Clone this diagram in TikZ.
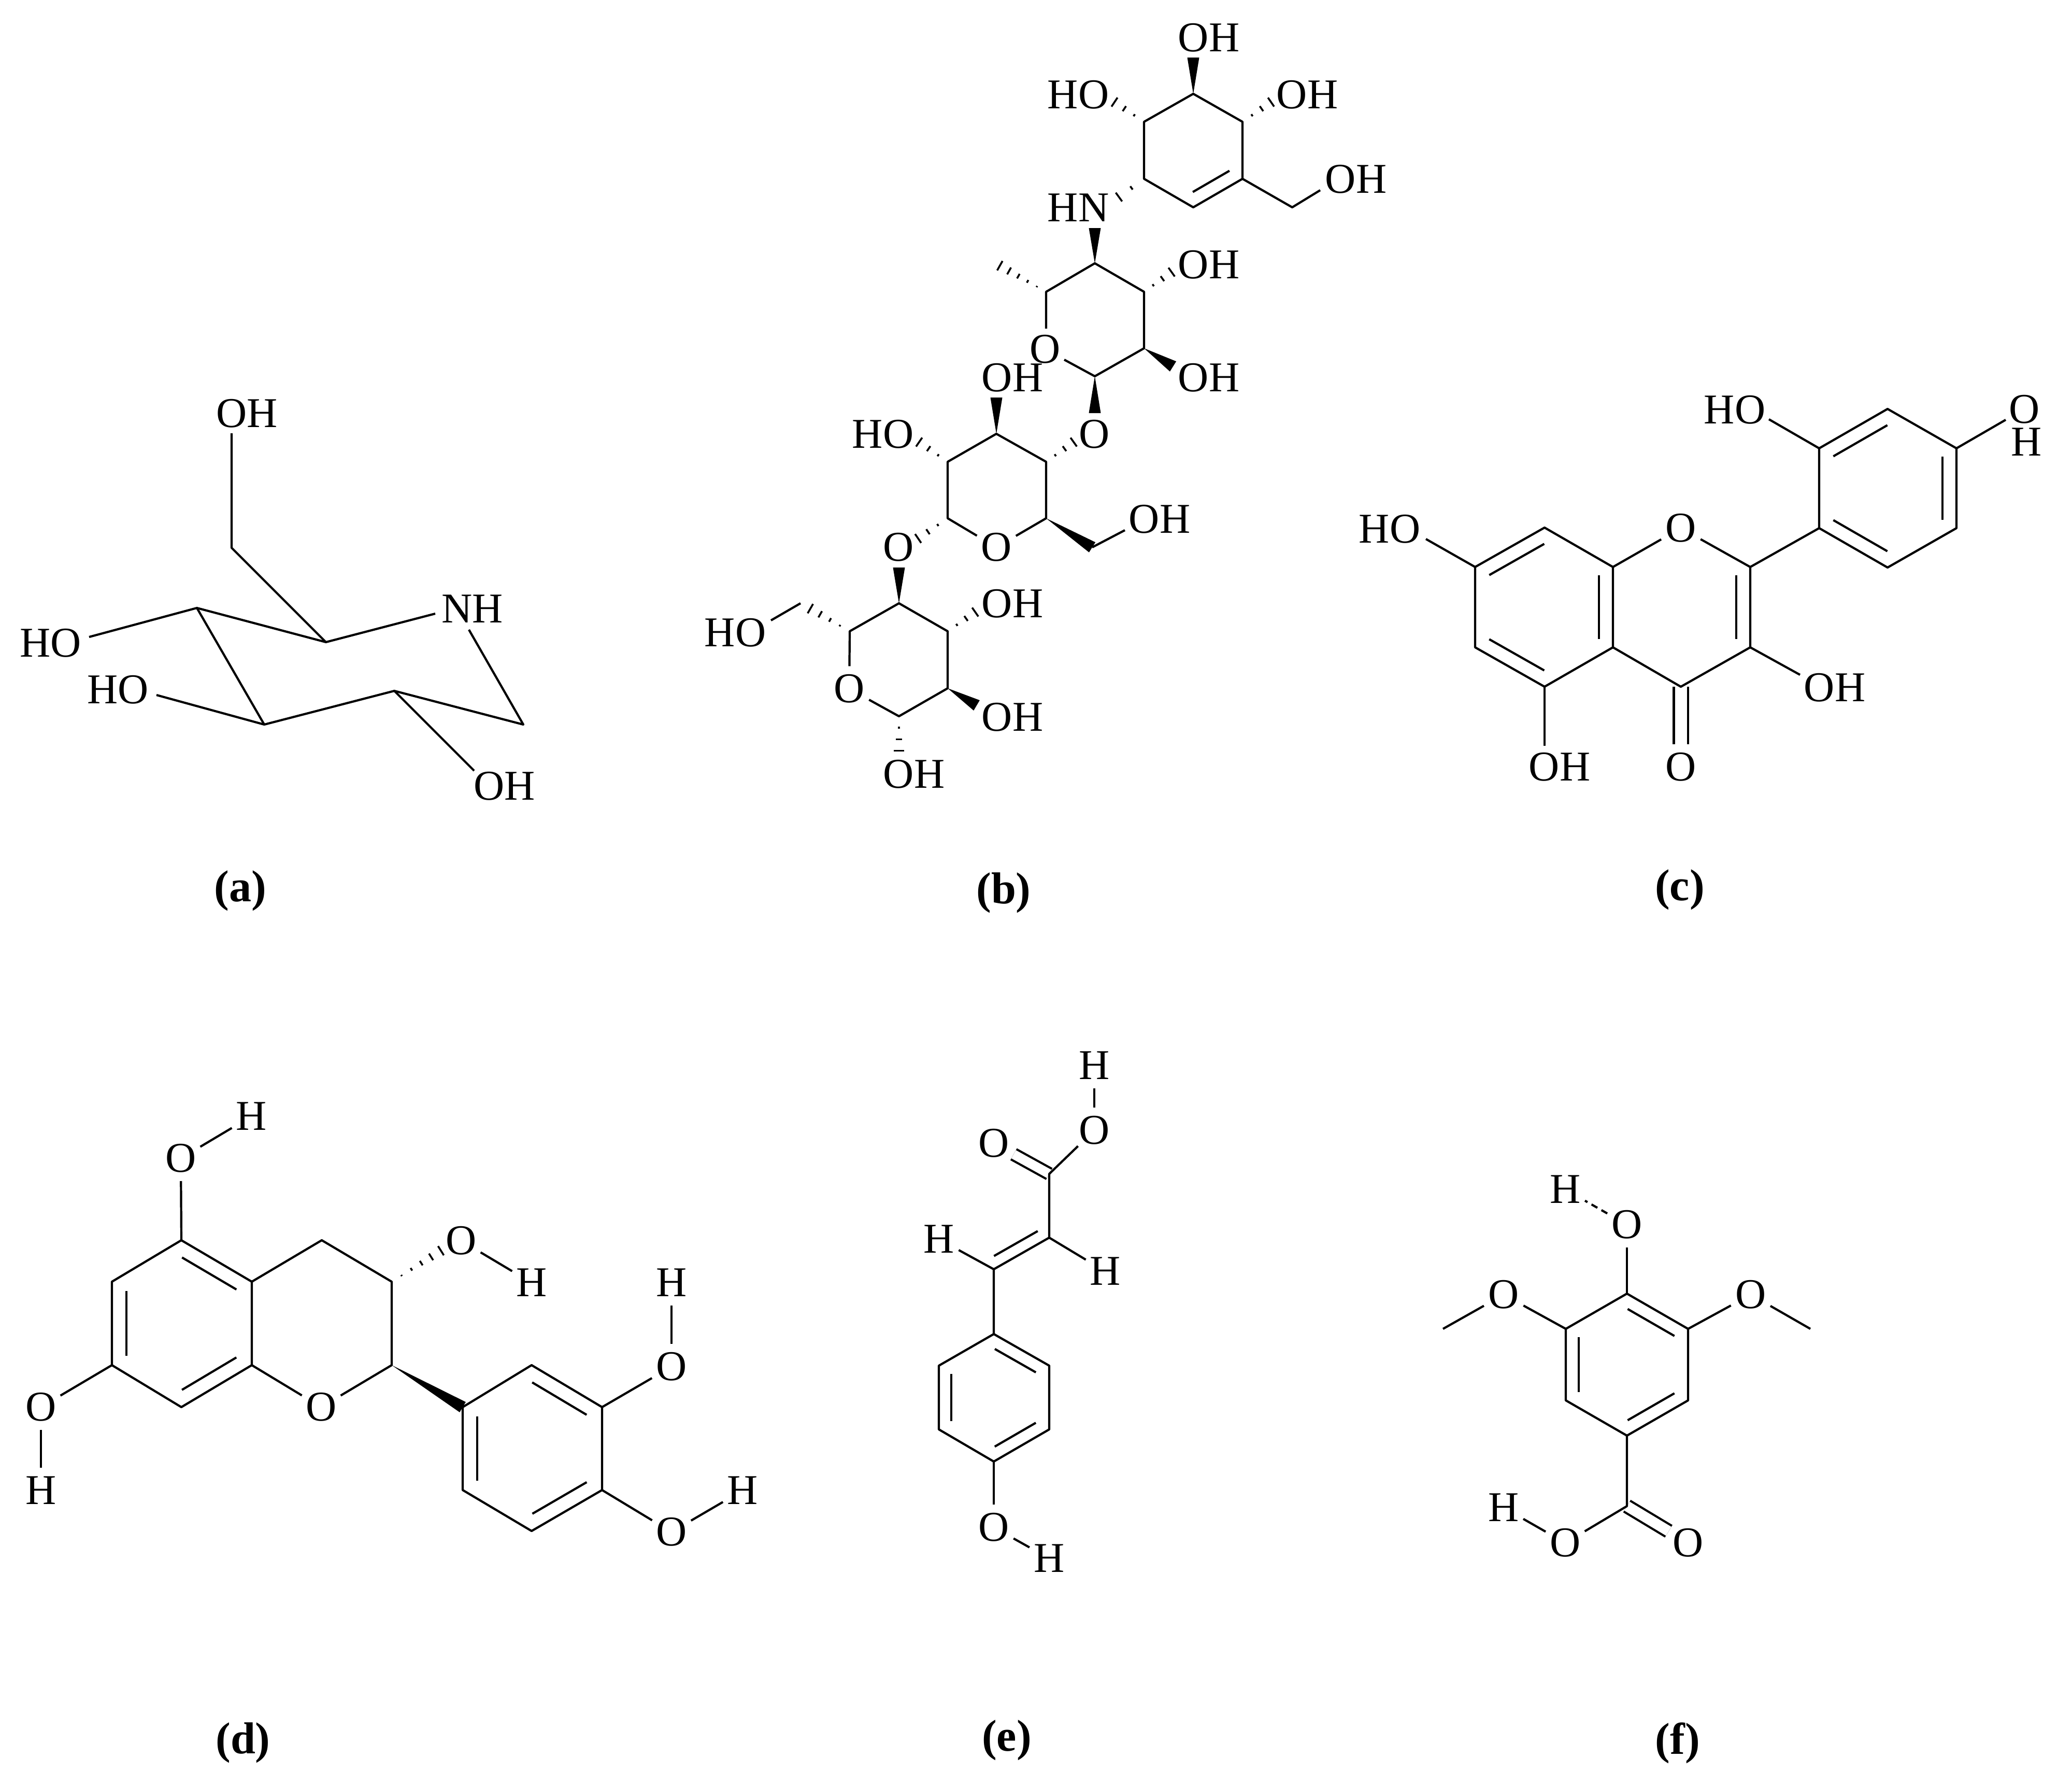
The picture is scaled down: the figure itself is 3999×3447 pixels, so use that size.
\documentclass[tikz,border=0pt]{standalone}
\usepackage{fontspec}
\setmainfont{Liberation Serif}
\usetikzlibrary{calc}
\tikzset{
  bond/.style={line width=0.042cm,line join=round},
  lbl/.style={inner sep=0pt,font=\fontsize{23.3}{28}\selectfont},
  atom/.style={circle,inner sep=0pt,minimum size=0.86cm,font=\fontsize{23.3}{28}\selectfont},
  sublabel/.style={inner sep=0pt,font=\fontsize{24.5}{29}\selectfont\bfseries}
}
% parallel inner line of a double bond, on the right of a->b
\newcommand{\innerbond}[4]{\draw[bond] ($(#1)!#4!(#2)!#3!-90:(#2)$) -- ($(#2)!#4!(#1)!#3!90:(#1)$);}
% solid wedge, tip at first point
\newcommand{\wedgebond}[2]{\fill ($(#2)!0.115cm!90:(#1)$) -- ($(#2)!0.115cm!-90:(#1)$) -- (#1) -- cycle;}
% hashed wedge, tip at first point, #3 strokes
\newcommand{\hashbond}[3]{\foreach \i in {1,...,#3}{
  \pgfmathsetmacro{\t}{0.95*\i/#3}
  \pgfmathsetmacro{\h}{0.1*(\i/#3)^1.5+0.004}
  \coordinate (hh) at ($(#1)!\t!(#2)$);
  \draw[line width=0.036cm] ($(hh)!\h cm!90:(#2)$) -- ($(hh)!\h cm!-90:(#2)$);}}
\begin{document}
\begin{tikzpicture}[x=0.01cm,y=-0.01cm]
\useasboundingbox (0,0) rectangle (3999,3447);
\fill[white] (0,0) rectangle (3999,3447);

%% ---------- (a) ----------
\node[lbl] (aOHt) at (477,798) {OH};
\node[lbl] (aNH) at (912,1175) {NH};
\node[lbl] (aHOl) at (98,1241) {HO};
\node[lbl] (aHOm) at (228,1331) {HO};
\node[lbl] (aOHb) at (974,1517) {OH};
\node[sublabel] (acap) at (464,1719) {(a)};
\coordinate (a1) at (380,1173);
\coordinate (a2) at (629,1239);
\coordinate (a3) at (1010,1398);
\coordinate (a4) at (761,1333);
\coordinate (a5) at (510,1398);
\coordinate (a6) at (447,1057);
\coordinate (aE1) at (447,836);
\coordinate (aE2) at (840,1184);
\coordinate (aE3) at (905,1215);
\coordinate (aE4) at (172,1229);
\coordinate (aE5) at (302,1341);
\coordinate (aE6) at (915,1487);
\draw[bond] (aE1) -- (a6) -- (a2);
\draw[bond] (aE4) -- (a1) -- (a2) -- (aE2);
\draw[bond] (aE3) -- (a3) -- (a4) -- (a5) -- (a1);
\draw[bond] (aE5) -- (a5);
\draw[bond] (aE6) -- (a4);

%% ---------- (b) ----------
\node[lbl] (bOH1) at (2333,73) {OH};
\node[lbl] (bHO2) at (2081,183) {HO};
\node[lbl] (bOH3) at (2523,183) {OH};
\node[lbl] (bOH4) at (2617,346) {OH};
\node[lbl] (bHN) at (2081,401) {HN};
\node[lbl] (bOH5) at (2333,511) {OH};
\node[lbl] (bOm) at (2017,674) {O};
\node[lbl] (bOH6) at (2333,729) {OH};
\node[lbl] (bOH7) at (1954,729) {OH};
\node[lbl] (bHO8) at (1704,838) {HO};
\node[lbl] (bOg) at (2112,838) {O};
\node[lbl] (bOH9) at (2238,1002) {OH};
\node[atom] (bOn) at (1923,1056) {O};
\node[lbl] (bOl) at (1734,1056) {O};
\node[lbl] (bOH10) at (1954,1165) {OH};
\node[lbl] (bHO11) at (1419,1221) {HO};
\node[atom] (bOo) at (1639,1329) {O};
\node[lbl] (bOH12) at (1954,1384) {OH};
\node[lbl] (bOH13) at (1764,1494) {OH};
\node[sublabel] (bcap) at (1937,1723) {(b)};
\coordinate (t1) at (2303,181);
\coordinate (t2) at (2398,235);
\coordinate (t3) at (2398,345);
\coordinate (t4) at (2303,400);
\coordinate (t5) at (2208,345);
\coordinate (t6) at (2208,235);
\coordinate (tC) at (2494,400);
\coordinate (tE) at (2548,367);
\coordinate (tW) at (2303,111);
\coordinate (tH2) at (2148,195);
\coordinate (tH3) at (2456,195);
\coordinate (tHN) at (2157,382);
\draw[bond] (t1) -- (t2) -- (t3) -- (t4) -- (t5) -- (t6) -- cycle;
\draw[bond] (t3) -- (tC) -- (tE);
\innerbond{t3}{t4}{0.26cm}{0.14cm}
\wedgebond{t1}{tW}
\hashbond{t6}{tH2}{3}
\hashbond{t2}{tH3}{3}
\hashbond{t5}{tHN}{2}
\coordinate (m1) at (2113,508);
\coordinate (m2) at (2208,563);
\coordinate (m3) at (2208,672);
\coordinate (m4) at (2113,726);
\coordinate (m6) at (2019,563);
\coordinate (mOa) at (2019,634);
\coordinate (mOb) at (2054,694);
\coordinate (mW1) at (2113,440);
\coordinate (mMe) at (1925,510);
\coordinate (mH5) at (2264,523);
\coordinate (mW6) at (2264,707);
\coordinate (mW7) at (2113,797);
\draw[bond] (mOa) -- (m6) -- (m1) -- (m2) -- (m3) -- (m4) -- (mOb);
\wedgebond{m1}{mW1}
\wedgebond{m3}{mW6}
\wedgebond{m4}{mW7}
\hashbond{m6}{mMe}{5}
\hashbond{m2}{mH5}{3}
\coordinate (n1) at (1923,837);
\coordinate (n2) at (2019,891);
\coordinate (n3) at (2019,1000);
\coordinate (n5) at (1829,1000);
\coordinate (n6) at (1829,891);
\coordinate (nW7) at (1923,767);
\coordinate (nH8) at (1771,851);
\coordinate (nHg) at (2075,851);
\coordinate (nC) at (2108,1056);
\coordinate (nE) at (2171,1023);
\coordinate (nHl) at (1769,1041);
\draw[bond] (bOn) -- (n3) -- (n2) -- (n1) -- (n6) -- (n5) -- (bOn);
\draw[bond] (nC) -- (nE);
\wedgebond{n1}{nW7}
\wedgebond{n3}{nC}
\hashbond{n6}{nH8}{3}
\hashbond{n2}{nHg}{3}
\hashbond{n5}{nHl}{3}
\coordinate (o1) at (1735,1164);
\coordinate (o2) at (1829,1218);
\coordinate (o3) at (1829,1328);
\coordinate (o4) at (1735,1382);
\coordinate (o6) at (1640,1218);
\coordinate (oWl) at (1735,1095);
\coordinate (oH10) at (1885,1179);
\coordinate (oW12) at (1885,1361);
\coordinate (oH13) at (1735,1452);
\coordinate (oC) at (1545,1164);
\coordinate (oHc) at (1560,1172);
\coordinate (oE) at (1488,1197);
\draw[bond] (bOo) -- (o6) -- (o1) -- (o2) -- (o3) -- (o4) -- (bOo);
\draw[bond] (oC) -- (oE);
\wedgebond{o1}{oWl}
\wedgebond{o3}{oW12}
\hashbond{o2}{oH10}{3}
\hashbond{o4}{oH13}{3}
\hashbond{o6}{oHc}{4}

%% ---------- (c) ----------
\node[lbl] (cHO1) at (3348,791) {HO};
\node[lbl] (cOr) at (3907,790) {O};
\node[lbl] (cHr) at (3911,853) {H};
\node[atom] (cO) at (3244,1019) {O};
\node[lbl] (cHO2) at (2682,1021) {HO};
\node[lbl] (cOH3) at (3541,1327) {OH};
\node[lbl] (cOH4) at (3010,1480) {OH};
\node[atom] (cOk) at (3244,1480) {O};
\node[sublabel] (ccap) at (3242,1717) {(c)};
\coordinate (r1) at (3511,865);
\coordinate (r2) at (3643,789);
\coordinate (r3) at (3776,865);
\coordinate (r4) at (3776,1019);
\coordinate (r5) at (3643,1095);
\coordinate (r6) at (3511,1019);
\coordinate (c2) at (3378,1094);
\coordinate (c3) at (3378,1249);
\coordinate (c4) at (3244,1325);
\coordinate (c4a) at (3113,1249);
\coordinate (c5) at (2981,1325);
\coordinate (c6) at (2847,1249);
\coordinate (c7) at (2847,1094);
\coordinate (c8) at (2981,1018);
\coordinate (c8a) at (3113,1094);
\coordinate (cE1) at (3414,809);
\coordinate (cE2) at (2752,1040);
\coordinate (cE3) at (3474,1302);
\coordinate (cE4) at (2981,1439);
\coordinate (cE5) at (3871,810);
\draw[bond,double,double distance=0.23cm] (c4) -- (cOk);
\draw[bond] (r1) -- (r2) -- (r3) -- (r4) -- (r5) -- (r6) -- cycle;
\draw[bond] (cE1) -- (r1);
\draw[bond] (r3) -- (cE5);
\draw[bond] (r6) -- (c2) -- (c3) -- (c4) -- (c4a) -- (c8a) -- (cO) -- (c2);
\draw[bond] (c8a) -- (c8) -- (c7) -- (c6) -- (c5) -- (c4a);
\draw[bond] (cE2) -- (c7);
\draw[bond] (cE3) -- (c3);
\draw[bond] (c5) -- (cE4);
\innerbond{r1}{r2}{0.27cm}{0.16cm}
\innerbond{r3}{r4}{0.27cm}{0.16cm}
\innerbond{r5}{r6}{0.27cm}{0.16cm}
\innerbond{c2}{c3}{0.27cm}{0.16cm}
\innerbond{c8a}{c4a}{0.27cm}{0.16cm}
\innerbond{c7}{c8}{0.27cm}{0.16cm}
\innerbond{c5}{c6}{0.27cm}{0.16cm}

%% ---------- (d) ----------
\node[atom] (dO1) at (349,2235) {O};
\node[atom] (dH1) at (485,2154) {H};
\node[atom] (dO2) at (79,2715) {O};
\node[atom] (dH2) at (79,2876) {H};
\node[atom] (dO3) at (620,2715) {O};
\node[atom] (dO4) at (890,2394) {O};
\node[atom] (dH4) at (1026,2475) {H};
\node[atom] (dO5) at (1296,2637) {O};
\node[atom] (dH5) at (1296,2475) {H};
\node[atom] (dO6) at (1296,2956) {O};
\node[atom] (dH6) at (1433,2876) {H};
\node[sublabel] (dcap) at (469,3363) {(d)};
\coordinate (v1) at (350,2393);
\coordinate (v2) at (216,2473);
\coordinate (v3) at (216,2634);
\coordinate (v4) at (350,2715);
\coordinate (v5) at (486,2634);
\coordinate (v6) at (486,2473);
\coordinate (v7) at (621,2393);
\coordinate (v8) at (756,2473);
\coordinate (v9) at (756,2634);
\coordinate (vH) at (856,2410);
\coordinate (u1) at (893,2715);
\coordinate (u2) at (1026,2634);
\coordinate (u3) at (1162,2715);
\coordinate (u4) at (1162,2875);
\coordinate (u5) at (1026,2954);
\coordinate (u6) at (893,2875);
\draw[bond] (v1) -- (v2) -- (v3) -- (v4) -- (v5) -- (v6) -- cycle;
\draw[bond] (v6) -- (v7) -- (v8) -- (v9) -- (dO3) -- (v5);
\draw[bond] (v1) -- (dO1);
\draw[bond] (dO1) -- (dH1);
\draw[bond] (v3) -- (dO2);
\draw[bond] (dO2) -- (dH2);
\draw[bond] (dO4) -- (dH4);
\draw[bond] (u1) -- (u2) -- (u3) -- (u4) -- (u5) -- (u6) -- cycle;
\draw[bond] (u3) -- (dO5);
\draw[bond] (dO5) -- (dH5);
\draw[bond] (u4) -- (dO6);
\draw[bond] (dO6) -- (dH6);
\wedgebond{v9}{u1}
\hashbond{v8}{vH}{5}
\innerbond{v1}{v6}{0.28cm}{0.18cm}
\innerbond{v3}{v2}{0.28cm}{0.18cm}
\innerbond{v5}{v4}{0.28cm}{0.18cm}
\innerbond{u6}{u1}{0.28cm}{0.18cm}
\innerbond{u2}{u3}{0.28cm}{0.18cm}
\innerbond{u4}{u5}{0.28cm}{0.18cm}

%% ---------- (e) ----------
\node[atom] (eH1) at (2112,2056) {H};
\node[atom] (eO1) at (2112,2181) {O};
\node[atom] (eO2) at (1918,2206) {O};
\node[atom] (eH2) at (1812,2391) {H};
\node[atom] (eH3) at (2133,2453) {H};
\node[atom] (eO3) at (1918,2947) {O};
\node[atom] (eH4) at (2025,3007) {H};
\node[sublabel] (ecap) at (1943,3358) {(e)};
\coordinate (e1) at (2025,2265);
\coordinate (e2) at (2025,2388);
\coordinate (e3) at (1918,2449);
\coordinate (p1) at (1918,2574);
\coordinate (p2) at (2025,2635);
\coordinate (p3) at (2025,2758);
\coordinate (p4) at (1918,2820);
\coordinate (p5) at (1812,2758);
\coordinate (p6) at (1812,2635);
\draw[bond,double,double distance=0.18cm] (e1) -- (eO2);
\draw[bond] (eH1) -- (eO1);
\draw[bond] (eO1) -- (e1) -- (e2) -- (e3) -- (p1);
\draw[bond] (e2) -- (eH3);
\draw[bond] (e3) -- (eH2);
\draw[bond] (p1) -- (p2) -- (p3) -- (p4) -- (p5) -- (p6) -- cycle;
\draw[bond] (p4) -- (eO3);
\draw[bond] (eO3) -- (eH4);
\innerbond{e2}{e3}{0.22cm}{0.13cm}
\innerbond{p1}{p2}{0.24cm}{0.16cm}
\innerbond{p3}{p4}{0.24cm}{0.16cm}
\innerbond{p5}{p6}{0.24cm}{0.16cm}

%% ---------- (f) ----------
\node[atom] (fO1) at (3140,2363) {O};
\node[atom] (fH1) at (3021,2295) {H};
\node[atom] (fO2) at (2902,2498) {O};
\node[atom] (fO3) at (3379,2498) {O};
\node[atom] (fO4) at (3021,2977) {O};
\node[atom] (fH4) at (2902,2909) {H};
\node[atom] (fO5) at (3258,2977) {O};
\node[sublabel] (fcap) at (3238,3363) {(f)};
\coordinate (f1) at (3140,2496);
\coordinate (f2) at (3258,2564);
\coordinate (f3) at (3258,2702);
\coordinate (f4) at (3140,2770);
\coordinate (f5) at (3022,2702);
\coordinate (f6) at (3022,2564);
\coordinate (fC) at (3140,2906);
\coordinate (fMe1) at (2785,2564);
\coordinate (fMe2) at (3494,2564);
\draw[bond,double,double distance=0.20cm] (fC) -- (fO5);
\draw[bond] (f1) -- (f2) -- (f3) -- (f4) -- (f5) -- (f6) -- cycle;
\draw[bond] (f1) -- (fO1);
\draw[bond,dash pattern=on 0.13cm off 0.09cm] (fO1) -- (fH1);
\draw[bond] (f6) -- (fO2);
\draw[bond] (fO2) -- (fMe1);
\draw[bond] (f2) -- (fO3);
\draw[bond] (fO3) -- (fMe2);
\draw[bond] (f4) -- (fC) -- (fO4);
\draw[bond] (fO4) -- (fH4);
\innerbond{f1}{f2}{0.25cm}{0.16cm}
\innerbond{f3}{f4}{0.25cm}{0.16cm}
\innerbond{f5}{f6}{0.25cm}{0.16cm}
\end{tikzpicture}
\end{document}
